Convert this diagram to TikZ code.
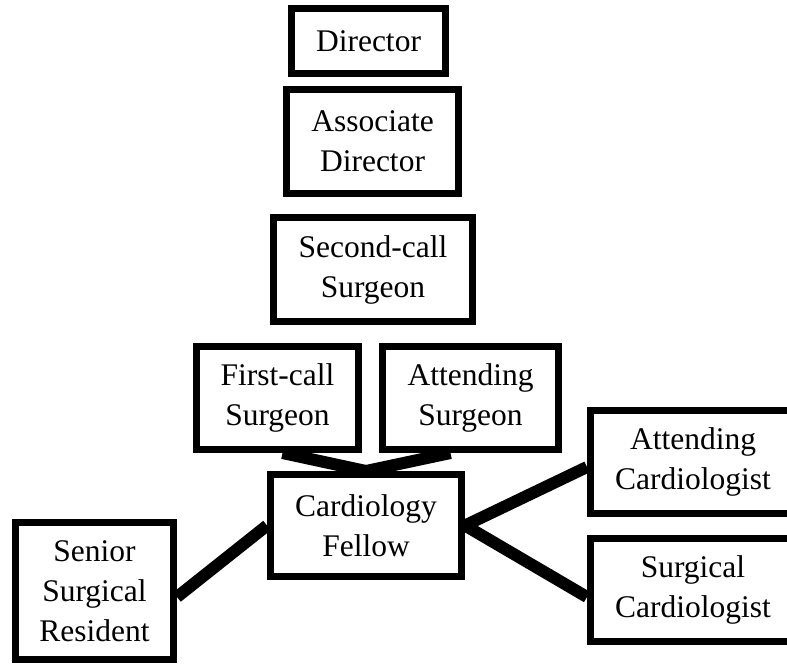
\documentclass[tikz,border=0pt]{standalone}
\usepackage{fontspec}
\setmainfont{Liberation Serif}
\usetikzlibrary{backgrounds}
\begin{document}
\begin{tikzpicture}[x=1pt, y=-1pt,
    role/.style={draw, line width=7pt, fill=white, align=center, inner sep=0pt,
                 font=\fontsize{31.5}{40}\selectfont},
    link/.style={line width=12pt}]
        \useasboundingbox (0,0) rectangle (787,665);
        \clip (0,0) rectangle (787,665);

        \node[role, minimum width=154pt, minimum height=65pt]  (dir)      at (368.5,41)  {Director};
        \node[role, minimum width=172pt, minimum height=104pt] (assoc)    at (372.5,141.5) {Associate\\Director};
        \node[role, minimum width=199pt, minimum height=104pt] (second)   at (373,269.5) {Second-call\\Surgeon};
        \node[role, minimum width=162pt, minimum height=103pt] (first)    at (277.5,398) {First-call\\Surgeon};
        \node[role, minimum width=176pt, minimum height=103pt] (attsurg)  at (470.5,398) {Attending\\Surgeon};
        \node[role, minimum width=191pt, minimum height=102pt] (cardio)   at (366,525.5) {Cardiology\\Fellow};
        \node[role, minimum width=158pt, minimum height=137pt] (senior)   at (94.5,591)  {Senior\\Surgical\\Resident};
        \node[role, minimum width=205pt, minimum height=103pt] (attcard)  at (693,462)   {Attending\\Cardiologist};
        \node[role, minimum width=205pt, minimum height=103pt] (surgcard) at (693,590)   {Surgical\\Cardiologist};

        \begin{pgfonlayer}{background}
        \draw[link] ([xshift=5pt]first.south) -- (cardio.north);
        \draw[link] ([xshift=-20pt]attsurg.south) -- (cardio.north);
        \draw[link] ([yshift=-6pt]senior.east) -- (cardio.west);
        \draw[link] (cardio.east) -- ([yshift=-5pt]attcard.west);
        \draw[link] (cardio.east) -- ([yshift=-7pt]surgcard.west);
        \end{pgfonlayer}
    \end{tikzpicture}
\end{document}
